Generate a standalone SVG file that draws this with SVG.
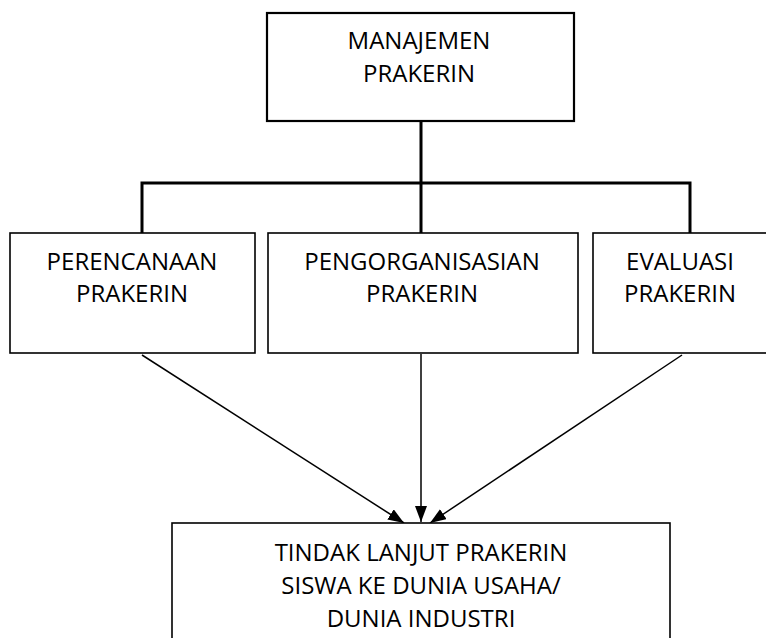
<svg xmlns="http://www.w3.org/2000/svg" width="766" height="638" viewBox="0 0 766 638">
<defs>
<style>
.box{fill:#fff;stroke:#000;stroke-width:1.6}
.t{font-family:"Open Sans","Liberation Sans",sans-serif;font-size:24px;fill:#000;text-anchor:middle}
.bus{fill:none;stroke:#000;stroke-width:3}
.arr{fill:none;stroke:#000;stroke-width:1.5;marker-end:url(#ah)}
</style>
<marker id="ah" viewBox="0 0 16 12" refX="16" refY="6" markerWidth="16" markerHeight="12" markerUnits="userSpaceOnUse" orient="auto">
<path d="M0,0 L16,6 L0,12 z" fill="#000"/>
</marker>
</defs>
<rect width="766" height="638" fill="#fff"/>
<g id="connectors">
<path class="bus" d="M421,121 V233 M142,183 H690 M142,181.5 V233 M690,181.5 V233"/>
<line class="arr" x1="142" y1="355" x2="404" y2="523"/>
<line class="arr" x1="421" y1="354" x2="421" y2="522"/>
<line class="arr" x1="682" y1="355" x2="430" y2="523"/>
</g>
<g id="manajemen">
<rect class="box" x="267" y="13" width="307" height="108" style="stroke-width:2.2"/>
<text class="t" x="419" y="49">MANAJEMEN</text>
<text class="t" x="419" y="82">PRAKERIN</text>
</g>
<g id="perencanaan">
<rect class="box" x="10" y="233" width="245" height="120"/>
<text class="t" x="132" y="270">PERENCANAAN</text>
<text class="t" x="132" y="302">PRAKERIN</text>
</g>
<g id="pengorganisasian">
<rect class="box" x="268" y="233" width="310" height="120"/>
<text class="t" x="422" y="270">PENGORGANISASIAN</text>
<text class="t" x="422" y="302">PRAKERIN</text>
</g>
<g id="evaluasi">
<rect class="box" x="593" y="233" width="180" height="120"/>
<text class="t" x="680" y="270">EVALUASI</text>
<text class="t" x="680" y="302">PRAKERIN</text>
</g>
<g id="tindak-lanjut">
<rect class="box" x="172" y="523" width="498" height="130"/>
<text class="t" x="421" y="561">TINDAK LANJUT PRAKERIN</text>
<text class="t" x="421" y="594">SISWA KE DUNIA USAHA/</text>
<text class="t" x="421" y="627">DUNIA INDUSTRI</text>
</g>
</svg>
